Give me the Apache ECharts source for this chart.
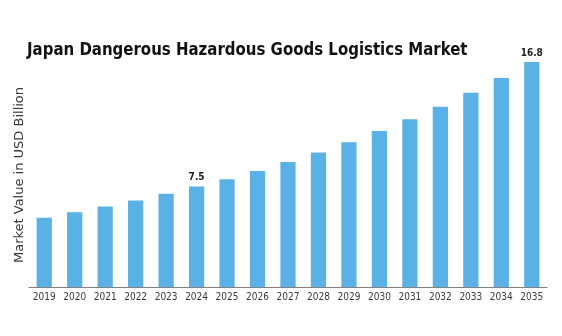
<!DOCTYPE html>
<html>
<head>
<meta charset="utf-8">
<script src="https://cdn.jsdelivr.net/npm/echarts@6/dist/echarts.min.js"></script>
<style>
  html, body { margin: 0; padding: 0; background: #ffffff; }
  #chart { width: 562px; height: 336px; }
</style>
</head>
<body>
<div id="chart"></div>
<script>
// Market size by year, USD billion
const years = ['2019', '2020', '2021', '2022', '2023', '2024', '2025', '2026', '2027',
               '2028', '2029', '2030', '2031', '2032', '2033', '2034', '2035'];
const marketValues = [5.17, 5.59, 6.01, 6.46, 6.96, 7.5, 8.05, 8.67, 9.34,
                      10.04, 10.81, 11.66, 12.53, 13.47, 14.51, 15.61, 16.8];
// Only these years carry a value label
const labelledYears = ['2024', '2035'];

const chartTitle = 'Japan Dangerous Hazardous Goods Logistics Market';
const valueAxisName = 'Market Value in USD Billion';

const chart = echarts.init(document.getElementById('chart'), null, { renderer: 'canvas' });

chart.setOption({
  animation: false,
  backgroundColor: '#ffffff',
  graphic: [
    {
      // Heading, set in a bold condensed face and narrowed slightly
      type: 'text',
      x: 27,
      y: 50,
      scaleX: 0.925,
      style: {
        text: chartTitle,
        font: 'bold 18px "DejaVu Sans Condensed"',
        fill: '#111111',
        textAlign: 'left',
        textVerticalAlign: 'middle'
      }
    },
    {
      // Vertical axis caption, slightly compressed across its height
      type: 'text',
      x: 20,
      y: 175,
      rotation: Math.PI / 2,
      scaleY: 0.88,
      style: {
        text: valueAxisName,
        font: '13px "DejaVu Sans"',
        fill: '#3a3a3a',
        textAlign: 'center',
        textVerticalAlign: 'middle'
      }
    }
  ],
  grid: { left: 29, right: 15, top: 46, bottom: 49 },
  xAxis: {
    type: 'category',
    data: years,
    axisLine: { show: true, lineStyle: { color: '#808080', width: 1 } },
    axisTick: { show: false },
    axisLabel: {
      fontFamily: 'DejaVu Sans Condensed',
      fontSize: 10,
      color: '#3a3a3a',
      margin: 5,
      interval: 0
    }
  },
  yAxis: {
    type: 'value',
    min: 0,
    max: 18,
    axisLine: { show: false },
    axisTick: { show: false },
    axisLabel: { show: false },
    splitLine: { show: false }
  },
  series: [{
    type: 'bar',
    data: marketValues.map((v, i) => ({
      value: v,
      label: {
        show: labelledYears.includes(years[i]),
        position: 'top',
        distance: 4,
        fontFamily: 'DejaVu Sans Condensed',
        fontWeight: 'bold',
        fontSize: 10,
        color: '#222222',
        formatter: (p) => String(p.value)
      }
    })),
    barWidth: '50%',
    itemStyle: { color: '#5ab1e5' }
  }]
});
</script>
</body>
</html>
